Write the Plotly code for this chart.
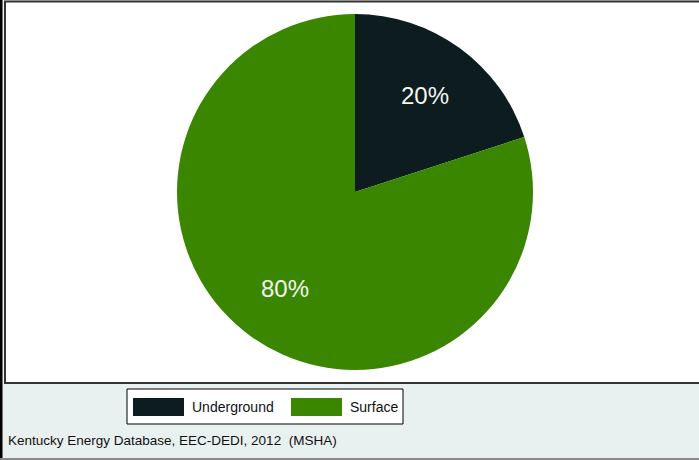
import math
import plotly.graph_objects as go

# data
labels = ["Underground", "Surface"]
values = [20, 80]
colors = ["#0c1c1f", "#3a8600"]
source = "Kentucky Energy Database, EEC-DEDI, 2012  (MSHA)"

W, H = 699, 460
BG = "#e9f0f0"
CX, CY, R = 355, 192, 178   # pie centre / radius in px
FONT = "Liberation Sans, Arial, sans-serif"


def px(x):
    return x / W


def py(y):
    return 1 - y / H


fig = go.Figure(go.Pie(
    labels=labels,
    values=values,
    marker=dict(colors=colors, line=dict(width=0)),
    sort=False,
    direction="clockwise",
    rotation=0,
    textinfo="none",
    domain=dict(x=[px(CX - R), px(CX + R)], y=[py(CY + R), py(CY - R)]),
    showlegend=False,
    hoverinfo="label+percent",
))

shapes = [
    # plot box (right edge runs off the page)
    dict(type="rect", xref="paper", yref="paper", x0=px(5), x1=1.5, y0=py(383), y1=py(1.5),
         fillcolor="white", line=dict(color="#333333", width=2), layer="below"),
    # outer left frame line
    dict(type="line", xref="paper", yref="paper", x0=px(1), x1=px(1), y0=0, y1=1,
         line=dict(color="black", width=3)),
    # bottom frame line
    dict(type="line", xref="paper", yref="paper", x0=0, x1=1, y0=py(459), y1=py(459),
         line=dict(color="#888888", width=2)),
    # legend box
    dict(type="rect", xref="paper", yref="paper", x0=px(127), x1=px(403), y0=py(424), y1=py(389),
         fillcolor="white", line=dict(color="black", width=1)),
]
annotations = []

# percent labels along each slice's mid-angle
total = sum(values)
start = 0.0
for v in values:
    mid = (start + v / 2) / total * 2 * math.pi
    start += v
    annotations.append(dict(xref="paper", yref="paper",
                            x=px(CX + 0.67 * R * math.sin(mid)),
                            y=py(CY - 0.67 * R * math.cos(mid)),
                            xanchor="center", yanchor="middle", showarrow=False,
                            text=f"{v / total:.0%}",
                            font=dict(family=FONT, size=24, color="#f4f6f0")))

# legend items
sw_x = [133, 291]
for i, (lab, col) in enumerate(zip(labels, colors)):
    x0 = sw_x[i]
    shapes.append(dict(type="rect", xref="paper", yref="paper",
                       x0=px(x0), x1=px(x0 + 51), y0=py(416), y1=py(398),
                       fillcolor=col, line=dict(width=0)))
    annotations.append(dict(xref="paper", yref="paper", x=px(x0 + 57), y=py(407),
                            xanchor="left", yanchor="middle", showarrow=False, text=lab,
                            font=dict(family=FONT, size=14, color="#111111")))

annotations.append(dict(xref="paper", yref="paper", x=px(6), y=py(440),
                        xanchor="left", yanchor="middle", showarrow=False, text=source,
                        font=dict(family=FONT, size=13.5, color="#111111")))

fig.update_layout(
    width=W, height=H,
    margin=dict(l=0, r=0, t=0, b=0),
    paper_bgcolor=BG,
    plot_bgcolor=BG,
    shapes=shapes,
    annotations=annotations,
)

fig.write_html("out.html", config={"displayModeBar": False},
               post_script="document.body.style.margin='0';")
